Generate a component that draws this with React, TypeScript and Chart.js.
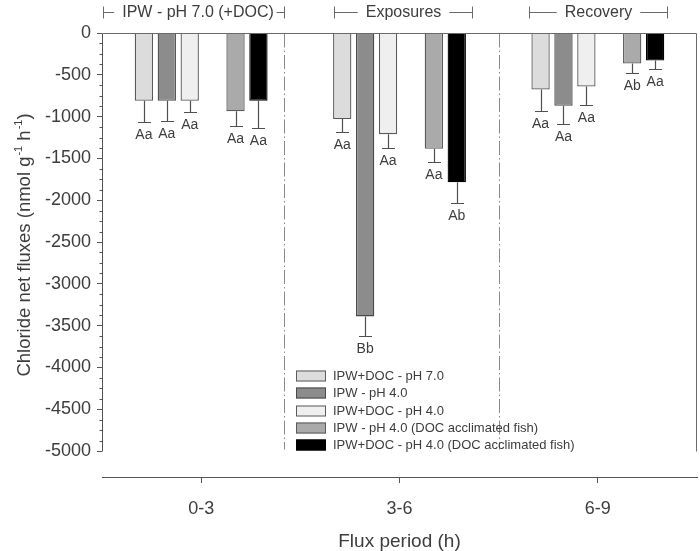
import React, { useEffect, useRef } from 'react';
import { Chart, registerables } from 'chart.js';

Chart.register(...registerables);

// ---------- data ----------
const categories = ['0-3', '3-6', '6-9'];
const seriesNames = [
  'IPW+DOC - pH 7.0',
  'IPW - pH 4.0',
  'IPW+DOC - pH 4.0',
  'IPW - pH 4.0 (DOC acclimated fish)',
  'IPW+DOC - pH 4.0 (DOC acclimated fish)',
];
const ipwDoc70 = [-810, -1030, -675];
const ipw40 = [-810, -3390, -870];
const ipwDoc40 = [-810, -1210, -640];
const ipw40Acc = [-937, -1385, -365];
const ipwDoc40Acc = [-810, -1785, -330];

const ipwDoc70Err = [250, 150, 255];
const ipw40Err = [240, 235, 222];
const ipwDoc40Err = [140, 165, 220];
const ipw40AccErr = [180, 160, 110];
const ipwDoc40AccErr = [325, 245, 97];

const ipwDoc70Sig = ['Aa', 'Aa', 'Aa'];
const ipw40Sig = ['Aa', 'Bb', 'Aa'];
const ipwDoc40Sig = ['Aa', 'Aa', 'Aa'];
const ipw40AccSig = ['Aa', 'Aa', 'Ab'];
const ipwDoc40AccSig = ['Aa', 'Ab', 'Aa'];

const yMajorStep = 500;
const yMinorStep = 125;
const yLowest = -5000;

const periodLabels = ['IPW - pH 7.0 (+DOC)', 'Exposures', 'Recovery'];
// bracket ends, in category-index units
const periodStarts = [-0.495, 0.67, 1.653];
const periodEnds = [0.418, 1.366, 2.349];
const dividerPositions = [0.418, 1.502];

// ---------- styles ----------
const fills = ['#dcdcdc', '#8c8c8c', '#efefef', '#aaaaaa', '#000000'];
const borders = ['#5a5a5a', '#4a4a4a', '#5a5a5a', '#5a5a5a', '#000000'];
const FONT = '"Liberation Sans", Arial, sans-serif';
const TEXT = '#3d3d3d';
const AXIS = '#555555';

const seriesValues = [ipwDoc70, ipw40, ipwDoc40, ipw40Acc, ipwDoc40Acc];
const seriesErrors = [ipwDoc70Err, ipw40Err, ipwDoc40Err, ipw40AccErr, ipwDoc40AccErr];
const seriesSig = [ipwDoc70Sig, ipw40Sig, ipwDoc40Sig, ipw40AccSig, ipwDoc40AccSig];

const decorPlugin = {
  id: 'decor',
  afterDatasetsDraw(chart: any) {
    const ctx = chart.ctx;
    const ys = chart.scales.y;
    const xs = chart.scales.x;
    const area = chart.chartArea;
    const y0 = Math.round(ys.getPixelForValue(0)) + 0.5;
    const yEnd = Math.round(ys.getPixelForValue(yLowest)) + 0.5;
    const left = Math.round(area.left) + 0.5;
    const right = Math.round(area.right) - 0.5;
    ctx.save();

    // dividers
    ctx.strokeStyle = '#8a8a8a';
    ctx.lineWidth = 1;
    ctx.setLineDash([14, 3, 1.5, 3]);
    dividerPositions.forEach((p) => {
      const x = Math.round(xs.getPixelForValue(p)) + 0.5;
      ctx.beginPath();
      ctx.moveTo(x, y0);
      ctx.lineTo(x, yEnd - 2);
      ctx.stroke();
    });
    ctx.setLineDash([]);

    // frame top + right
    ctx.strokeStyle = '#6a6a6a';
    ctx.beginPath();
    ctx.moveTo(left, y0);
    ctx.lineTo(right, y0);
    ctx.lineTo(right, yEnd);
    ctx.stroke();

    // y axis line
    ctx.strokeStyle = AXIS;
    ctx.beginPath();
    ctx.moveTo(left, y0);
    ctx.lineTo(left, yEnd);
    ctx.stroke();
    // minor ticks
    for (let v = 0; v >= yLowest; v -= yMinorStep) {
      if (v % yMajorStep === 0) continue;
      const y = Math.round(ys.getPixelForValue(v)) + 0.5;
      ctx.beginPath();
      ctx.moveTo(left - 3, y);
      ctx.lineTo(left, y);
      ctx.stroke();
    }

    // error bars + significance letters
    let dsIndex = 0;
    chart.data.datasets.forEach((ds: any, i: number) => {
      if (ds.spacer) return;
      const s = dsIndex++;
      const meta = chart.getDatasetMeta(i);
      meta.data.forEach((bar: any, j: number) => {
        const v = seriesValues[s][j];
        const e = seriesErrors[s][j];
        const yb = ys.getPixelForValue(v);
        const ye = Math.round(ys.getPixelForValue(v - e)) + 0.5;
        const x = Math.round(bar.x) + 0.5;
        ctx.strokeStyle = '#505050';
        ctx.lineWidth = 1.2;
        ctx.beginPath();
        ctx.moveTo(x, yb);
        ctx.lineTo(x, ye);
        ctx.moveTo(x - 6.5, ye);
        ctx.lineTo(x + 6.5, ye);
        ctx.stroke();
        ctx.fillStyle = TEXT;
        ctx.font = `14px ${FONT}`;
        ctx.textAlign = 'center';
        ctx.textBaseline = 'alphabetic';
        ctx.fillText(seriesSig[s][j], bar.x, ye + 16.5);
      });
    });

    // period brackets
    ctx.font = `16px ${FONT}`;
    ctx.textBaseline = 'middle';
    ctx.textAlign = 'center';
    ctx.strokeStyle = '#6a6a6a';
    ctx.lineWidth = 1;
    const by = 12.5;
    periodLabels.forEach((lab, k) => {
      const xa = Math.round(xs.getPixelForValue(periodStarts[k])) + 0.5;
      const xb = Math.round(xs.getPixelForValue(periodEnds[k])) + 0.5;
      const xc = (xa + xb) / 2 + (k === 0 ? 4 : 0);
      const w = ctx.measureText(lab).width;
      ctx.fillStyle = TEXT;
      ctx.fillText(lab, xc, by);
      ctx.beginPath();
      ctx.moveTo(xa, by - 6);
      ctx.lineTo(xa, by + 6);
      ctx.moveTo(xa, by);
      ctx.lineTo(Math.max(xa + 8, xc - w / 2 - 8), by);
      ctx.moveTo(Math.min(xb - 8, xc + w / 2 + 8), by);
      ctx.lineTo(xb, by);
      ctx.moveTo(xb, by - 6);
      ctx.lineTo(xb, by + 6);
      ctx.stroke();
    });

    // legend
    const lx = Math.round(area.left) + 194;
    const ly = 376;
    ctx.font = `13px ${FONT}`;
    ctx.textAlign = 'left';
    ctx.textBaseline = 'middle';
    seriesNames.forEach((name, k) => {
      const yy = Math.round(ly + k * 17.3);
      ctx.fillStyle = fills[k];
      ctx.fillRect(lx, yy - 5.5, 30, 11);
      ctx.strokeStyle = borders[k];
      ctx.lineWidth = 1;
      ctx.strokeRect(lx + 0.5, yy - 5, 29, 10);
      ctx.fillStyle = TEXT;
      ctx.fillText(name, lx + 37, yy + 0.5);
    });

    // y title with superscripts
    ctx.save();
    ctx.translate(23, 245);
    ctx.rotate(-Math.PI / 2);
    const parts: [string, boolean][] = [
      ['Chloride net fluxes (nmol g', false],
      ['-1', true],
      [' h', false],
      ['-1', true],
      [')', false],
    ];
    const big = `18.5px ${FONT}`;
    const small = `11px ${FONT}`;
    let total = 0;
    parts.forEach(([t, sup]) => {
      ctx.font = sup ? small : big;
      total += ctx.measureText(t).width + (sup ? 1 : 0);
    });
    let cx = -total / 2;
    ctx.textAlign = 'left';
    ctx.textBaseline = 'alphabetic';
    ctx.fillStyle = TEXT;
    parts.forEach(([t, sup]) => {
      ctx.font = sup ? small : big;
      ctx.fillText(t, cx + (sup ? 1 : 0), sup ? -1 : 6.5);
      cx += ctx.measureText(t).width + (sup ? 1 : 0);
    });
    ctx.restore();

    ctx.restore();
  },
};

export default function App() {
  const ref = useRef<HTMLCanvasElement | null>(null);
  useEffect(() => {
    if (!ref.current) return;
    const datasets: any[] = [];
    seriesNames.forEach((name, k) => {
      if (k === 3) {
        datasets.push({ label: '', data: categories.map(() => null), spacer: true, backgroundColor: 'rgba(0,0,0,0)' });
      }
      datasets.push({
        label: name,
        data: seriesValues[k],
        backgroundColor: fills[k],
        borderColor: borders[k],
        borderWidth: 1.3,
        borderSkipped: 'start',
      });
    });
    datasets.forEach((d) => {
      d.categoryPercentage = 0.693;
      d.barPercentage = 0.8;
    });
    const yTicks: number[] = [];
    for (let v = 0; v >= yLowest; v -= yMinorStep) yTicks.push(v);

    const chart = new Chart(ref.current, {
      type: 'bar',
      data: { labels: categories, datasets },
      plugins: [decorPlugin],
      options: {
        animation: false,
        responsive: true,
        maintainAspectRatio: false,
        devicePixelRatio: 1,
        layout: { padding: { top: 33, right: 3, left: 0, bottom: 0 } },
        plugins: { legend: { display: false }, tooltip: { enabled: false } },
        scales: {
          x: {
            offset: true,
            grid: { display: true, drawOnChartArea: false, drawTicks: true, tickLength: 6, tickColor: AXIS, offset: false },
            border: { display: true, color: AXIS, width: 1 },
            ticks: { font: { family: FONT, size: 18 }, color: TEXT, padding: 15 },
            title: {
              display: true,
              text: 'Flux period (h)',
              font: { family: FONT, size: 19, lineHeight: 1 },
              color: TEXT,
              padding: { top: 0, bottom: 0 },
            },
            afterFit: (s: any) => { s.height = 74; },
          },
          y: {
            min: -5311,
            max: 0,
            afterBuildTicks: (s: any) => { s.ticks = yTicks.map((v) => ({ value: v })); },
            grid: {
              display: true,
              drawOnChartArea: false,
              drawTicks: true,
              tickLength: 5,
              tickColor: (c: any) => (c.tick && c.tick.value % yMajorStep === 0 ? AXIS : 'rgba(0,0,0,0)'),
            },
            border: { display: false },
            ticks: {
              autoSkip: false,
              font: { family: FONT, size: 18 },
              color: TEXT,
              padding: 6,
              callback: (v: any) => (Number(v) % yMajorStep === 0 ? String(v) : ''),
            },
            afterFit: (s: any) => { s.width = 102; },
          },
        },
      } as any,
    });
    return () => chart.destroy();
  }, []);
  return (
    <div style={{ position: 'absolute', left: 0, top: 0, width: 700, height: 551, background: '#fff' }}>
      <canvas ref={ref} />
    </div>
  );
}
